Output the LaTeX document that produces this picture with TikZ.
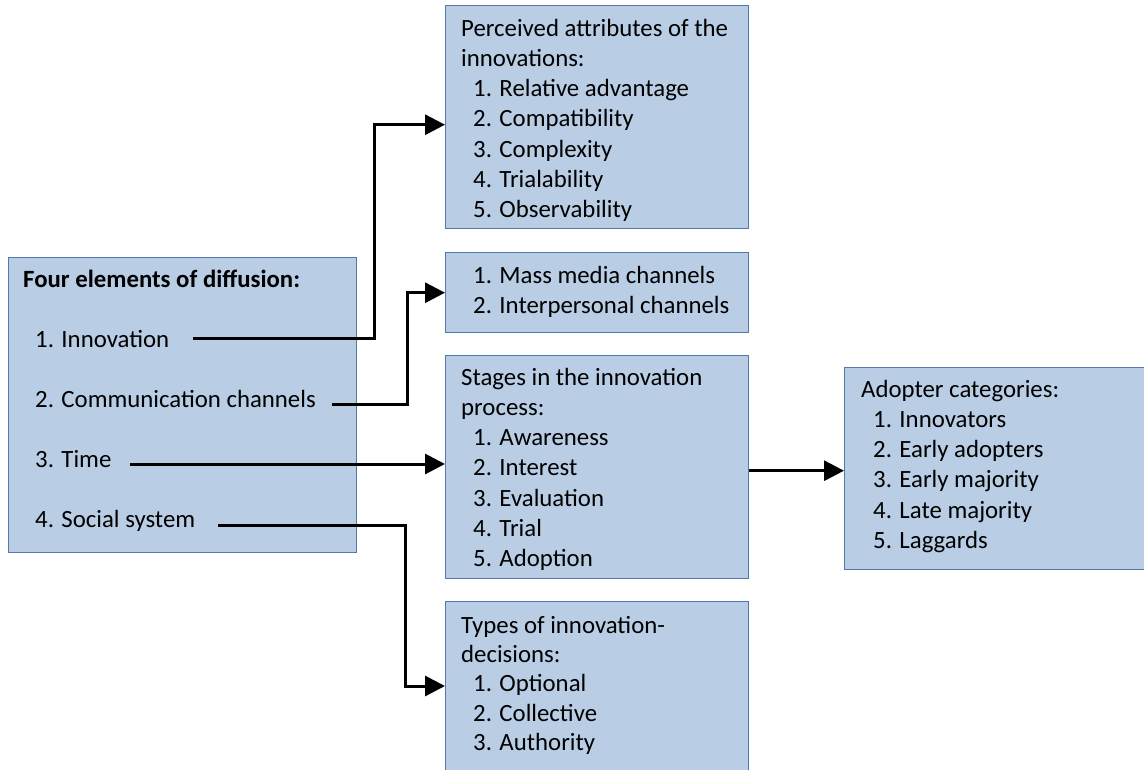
\documentclass[tikz,border=0pt]{standalone}
\usepackage{fontspec}
\setmainfont{Carlito}
\usetikzlibrary{arrows.meta}
\definecolor{boxfill}{HTML}{B9CDE5}
\definecolor{boxline}{HTML}{5578AC}
\newcommand\itm{\hspace*{12pt}}
\begin{document}
\begin{tikzpicture}[x=1pt,y=-1pt,
  box/.style={draw=boxline, fill=boxfill, line width=1.4pt, anchor=north west, inner sep=0pt},
  txt/.style={anchor=north west, inner sep=0pt, align=left, font=\fontsize{24.8}{30.2}\selectfont},
  ltxt/.style={anchor=base west, inner sep=0pt, font=\fontsize{24.8}{30.2}\selectfont},
  conn/.style={line width=3pt, -{Triangle[length=20pt,width=20pt]}}]
\useasboundingbox (0,0) rectangle (1144,769);
\clip (0,0) rectangle (1144,769);
% boxes
\node[box, minimum width=348pt, minimum height=295pt] (b0) at (8,257) {};
\node[box, minimum width=303pt, minimum height=223pt] (b1) at (445,5) {};
\node[box, minimum width=303pt, minimum height=80pt] (b2) at (445,252) {};
\node[box, minimum width=303pt, minimum height=223pt] (b3) at (445,355) {};
\node[box, minimum width=303pt, minimum height=202pt] (b4) at (844,367) {};
\node[box, minimum width=303pt, minimum height=180pt] (b5) at (445,601) {};
% left box text
\node[ltxt, font=\fontsize{24.8}{30.2}\selectfont\bfseries] (t0) at (23,287) {Four elements of diffusion:};
\node[ltxt] (i1) at (35,347) {1. Innovation};
\node[ltxt] (i2) at (35,407) {2. Communication channels};
\node[ltxt] (i3) at (35,467) {3. Time};
\node[ltxt] (i4) at (35,527) {4. Social system};
% right boxes text
\node[txt] (t1) at (461,14.9) {\strut Perceived attributes of the\\innovations:\\\itm 1. Relative advantage\\\itm 2. Compatibility\\\itm 3. Complexity\\\itm 4. Trialability\\\itm 5. Observability};
\node[txt] (t2) at (461,261.9) {\strut\itm 1. Mass media channels\\\itm 2. Interpersonal channels};
\node[txt] (t3) at (461,363.9) {\strut Stages in the innovation\\process:\\\itm 1. Awareness\\\itm 2. Interest\\\itm 3. Evaluation\\\itm 4. Trial\\\itm 5. Adoption};
\node[txt] (t4) at (861,375.9) {\strut Adopter categories:\\\itm 1. Innovators\\\itm 2. Early adopters\\\itm 3. Early majority\\\itm 4. Late majority\\\itm 5. Laggards};
\node[txt, font=\fontsize{24.8}{29.4}\selectfont] (t5) at (461,612.4) {\strut Types of innovation-\\decisions:\\\itm 1. Optional\\\itm 2. Collective\\\itm 3. Authority};
% connector starts
\coordinate (s1) at (193,338);
\coordinate (s2) at (332,404);
\coordinate (s3) at (130,464);
\coordinate (s4) at (218,525);
% connectors
\draw[conn] (s1) -- (374,338) |- ([yshift=-7.5pt]b1.west);
\draw[conn] (s2) -- (407,404) |- (b2.west);
\draw[conn] (s3) -- (s3 -| b3.west);
\draw[conn] (s4) -- (405,525) |- ([yshift=-85pt]b5.north west);
\draw[conn] ([yshift=-3.5pt]b3.east) -- ([yshift=-3.5pt]b3.east -| b4.west);
\end{tikzpicture}
\end{document}
